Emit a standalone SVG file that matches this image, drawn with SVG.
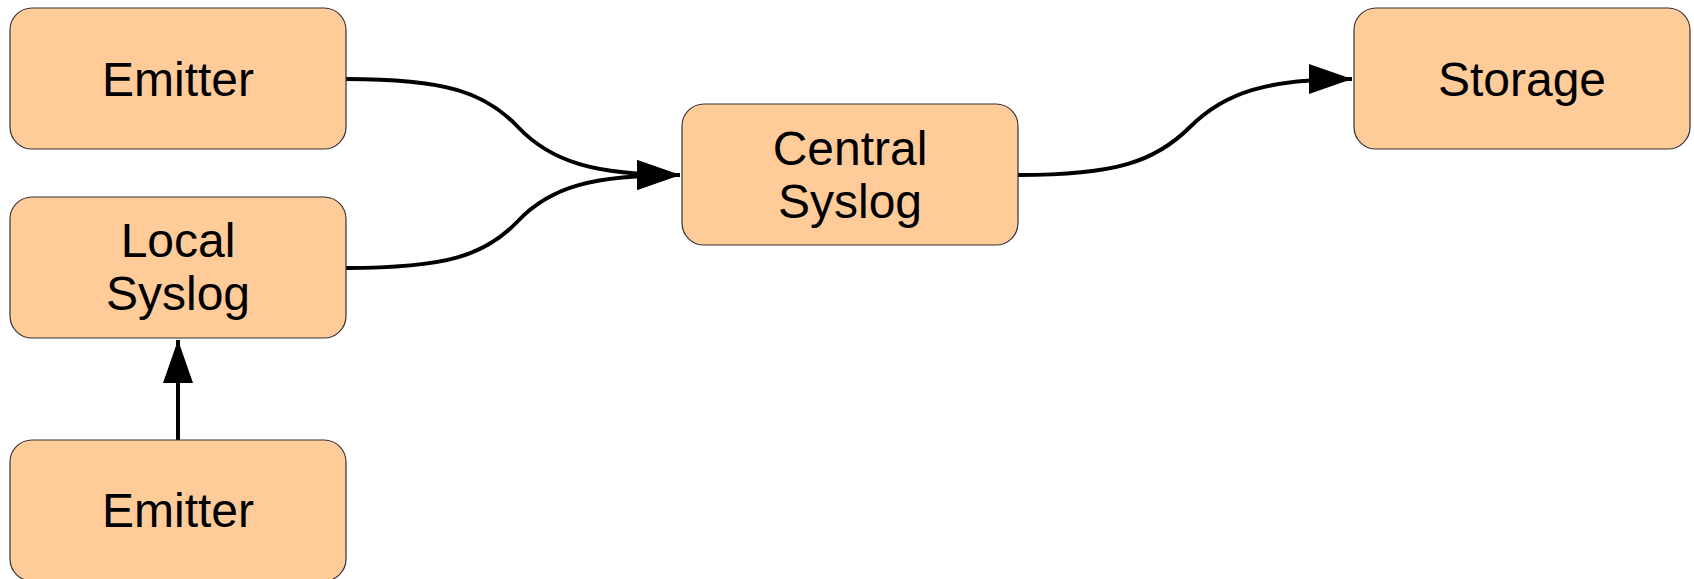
<svg xmlns="http://www.w3.org/2000/svg" width="1694" height="579" viewBox="0 0 1694 579">
  <style>
    .box { fill: #ffcc99; stroke: #333333; stroke-width: 1.2; }
    .label { font-family: "Liberation Sans", Arial, sans-serif; font-size: 48px; fill: #000000; text-anchor: middle; }
    .edge { fill: none; stroke: #000000; stroke-width: 4; }
  </style>
  <defs>
    <marker id="arrow" markerUnits="userSpaceOnUse" markerWidth="44" markerHeight="30" refX="43" refY="15" orient="auto" overflow="visible">
      <path d="M0,0 L43,15 L0,30 Z" fill="#000000"/>
    </marker>
  </defs>

  <!-- connectors -->
  <g id="connectors">
    <path class="edge" d="M346,79 C445,79 485,92 518,127 S595,175 680,175" marker-end="url(#arrow)"/>
    <path class="edge" d="M346,268 C445,268 485,256 518,221 S595,175 680,175" marker-end="url(#arrow)"/>
    <path class="edge" d="M1018,175 C1115,175 1155,162 1190,127 S1268,79 1352,79" marker-end="url(#arrow)"/>
    <path class="edge" d="M178,440 L178,340" marker-end="url(#arrow)"/>
  </g>

  <g id="emitter-top">
    <rect class="box" x="10" y="8" width="336" height="141" rx="22" ry="22"/>
    <text class="label" x="178" y="96">Emitter</text>
  </g>

  <g id="local-syslog">
    <rect class="box" x="10" y="197" width="336" height="141" rx="22" ry="22"/>
    <text class="label" x="178" y="257">Local</text>
    <text class="label" x="178" y="310">Syslog</text>
  </g>

  <g id="emitter-bottom">
    <rect class="box" x="10" y="440" width="336" height="141" rx="22" ry="22"/>
    <text class="label" x="178" y="527">Emitter</text>
  </g>

  <g id="central-syslog">
    <rect class="box" x="682" y="104" width="336" height="141" rx="22" ry="22"/>
    <text class="label" x="850" y="165">Central</text>
    <text class="label" x="850" y="218">Syslog</text>
  </g>

  <g id="storage">
    <rect class="box" x="1354" y="8" width="336" height="141" rx="22" ry="22"/>
    <text class="label" x="1522" y="96">Storage</text>
  </g>
</svg>
